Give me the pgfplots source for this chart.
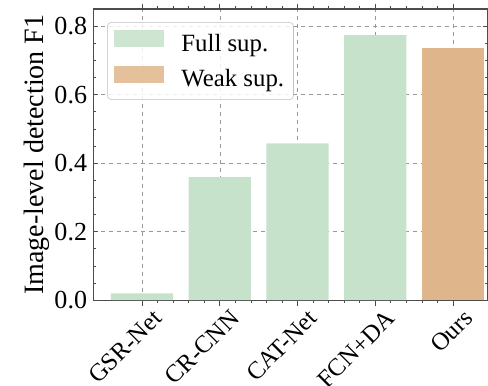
\documentclass[border=0pt]{standalone}
\usepackage{pgfplots}
\pgfplotsset{compat=1.18}
\usepackage{fontspec}
\setmainfont{Liberation Serif}
\definecolor{fullc}{HTML}{C6E2CA}
\definecolor{weakc}{HTML}{DFB58B}
\begin{document}
\begin{tikzpicture}
\begin{axis}[
  width=296pt, height=218.25pt, scale only axis,
  xmin=-0.63, xmax=4.45, ymin=0, ymax=0.85,
  xtick={0,1,2,3,4},
  xticklabels={GSR-Net,CR-CNN,CAT-Net,FCN+DA,Ours},
  ytick={0,0.2,0.4,0.6,0.8},
  yticklabel style={/pgf/number format/fixed,/pgf/number format/fixed zerofill,/pgf/number format/precision=1},
  /pgf/number format/assume math mode=true,
  minor y tick num=3,
  minor x tick num=4,
  tick align=inside,
  xtick pos=both, ytick pos=both,
  major tick length=4pt, minor tick length=2pt,
  tick style={black!70, line width=0.5pt},
  axis line style={black!70, line width=0.8pt},
  xmajorgrids, ymajorgrids,
  major grid style={dashed, black!40, line width=0.4pt},
  ticklabel style={font=\fontsize{19.5}{23}\selectfont},
  yticklabel style={xshift=-1pt},
  xticklabel style={font=\fontsize{18.5}{22}\selectfont, rotate=45, anchor=north east, xshift=7pt, yshift=-3pt},
  ylabel={Image-level detection F1},
  ylabel style={font=\fontsize{21}{25}\selectfont, yshift=-3pt},
  ybar, bar width=0.8, bar shift=0pt,
  legend style={at={(0.0355,0.955)}, anchor=north west, font=\fontsize{18.6}{22}\selectfont,
    draw=black!25, rounded corners=3pt, fill=white, fill opacity=0.85, text opacity=1,
    row sep=8pt, inner xsep=5pt, inner ysep=6pt},
  legend cell align=left,
  legend image code/.code={\fill[#1, sharp corners] (0pt,-3pt) rectangle (37.5pt,9.75pt);},
  axis on top=false,
]
\addplot[fill=fullc, draw=none] coordinates {(0,0.02) (1,0.359) (2,0.458) (3,0.774)};
\addlegendentry{\hspace{11pt}Full sup.}
\addplot[fill=weakc, draw=none] coordinates {(4,0.736)};
\addlegendentry{\hspace{11pt}Weak sup.}
\end{axis}
\pgfresetboundingbox
\path ([xshift=-69.75pt,yshift=-63.75pt]current axis.south west) rectangle ([yshift=6.75pt]current axis.north east);
\end{tikzpicture}
\end{document}
